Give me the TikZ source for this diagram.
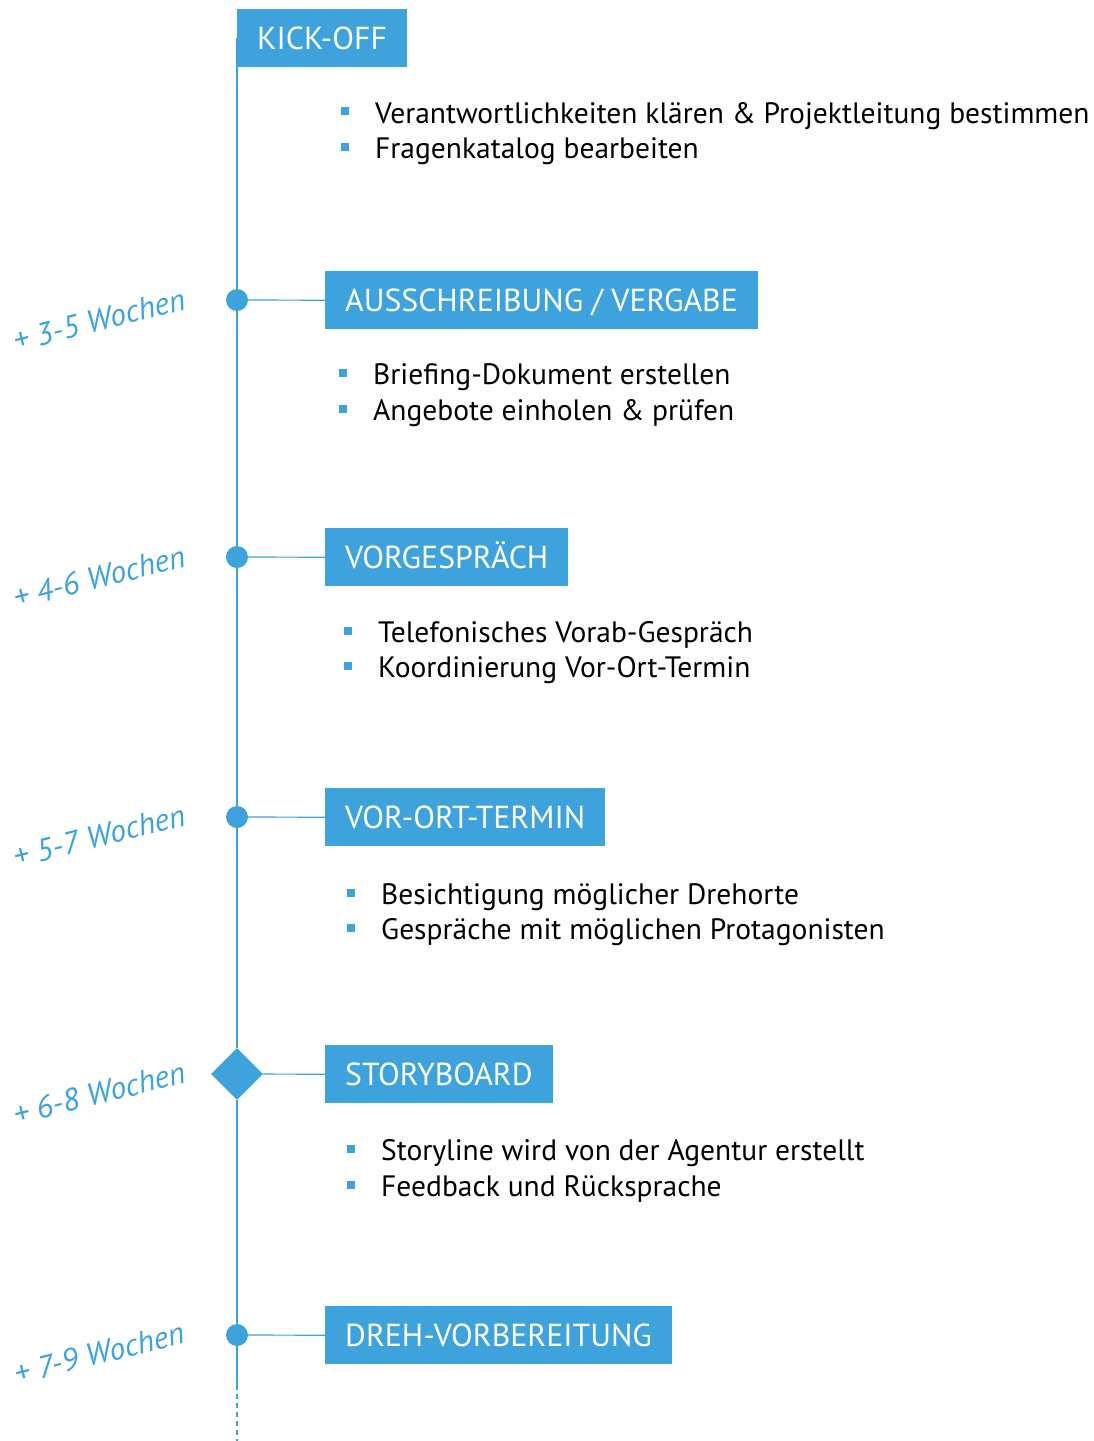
\documentclass[tikz,border=0pt]{standalone}
\usepackage{fontspec}
\setmainfont{PT Sans}
\usetikzlibrary{shapes.geometric}
\definecolor{tlblue}{HTML}{3EA3DC}
\begin{document}
\begin{tikzpicture}[x=1pt,y=-1pt,
  phasebox/.style={fill=tlblue,text=white,anchor=north west,inner xsep=20pt,inner ysep=0pt,
    minimum height=58pt,text height=22pt,text depth=0pt,font=\fontsize{31.8}{36}\selectfont},
  item/.style={anchor=base west,inner sep=0pt,font=\fontsize{29.5}{34}\selectfont},
  bul/.style={fill=tlblue,minimum size=8pt,inner sep=0pt,draw=none},
  dot/.style={circle,fill=tlblue,minimum size=22pt,inner sep=0pt},
  dia/.style={diamond,fill=tlblue,minimum size=52pt,inner sep=0pt},
  tl/.style={draw=tlblue,line width=1.2pt},
  weeks/.style={text=tlblue,rotate=14,font=\itshape\fontsize{31.5}{36}\selectfont,inner sep=0pt}]
\useasboundingbox (0,0) rectangle (1094,1441);
% timeline nodes
\coordinate (top) at (237,38);
\node[dot] (m1) at (237,300) {};
\node[dot] (m2) at (237,557) {};
\node[dot] (m3) at (237,817) {};
\node[dia] (m4) at (237,1074) {};
\node[dot] (m5) at (237,1335) {};
\coordinate (solidend) at (237,1385);
\coordinate (bottom) at (237,1441);
\draw[tl] (top) -- (m1) -- (m2) -- (m3) -- (m4) -- (m5) -- (solidend);
\draw[tl,dash pattern=on 5pt off 4pt] (solidend) -- (bottom);
% boxes
\node[phasebox] (b0) at (237,9) {KICK-OFF};
\node[phasebox] (b1) at (325,271) {AUSSCHREIBUNG / VERGABE};
\node[phasebox] (b2) at (325,528) {VORGESPRÄCH};
\node[phasebox] (b3) at (325,788) {VOR-ORT-TERMIN};
\node[phasebox] (b4) at (325,1045) {STORYBOARD};
\node[phasebox] (b5) at (325,1306) {DREH-VORBEREITUNG};
\draw[tl] (m1) -- (b1.west);
\draw[tl] (m2) -- (b2.west);
\draw[tl] (m3) -- (b3.west);
\draw[tl] (m4) -- (b4.west);
\draw[tl] (m5) -- (b5.west);
% bullets
\node[bul] (q01) at (345,111) {};
\node[item] (t01) at (375,123) {Verantwortlichkeiten klären \& Projektleitung bestimmen};
\node[bul] (q02) at (345,147) {};
\node[item] (t02) at (375,158) {Fragenkatalog bearbeiten};
\node[bul] (q11) at (343,373) {};
\node[item] (t11) at (373,384) {Briefing-Dokument erstellen};
\node[bul] (q12) at (343,409) {};
\node[item] (t12) at (373,420) {Angebote einholen \& prüfen};
\node[bul] (q21) at (348,631) {};
\node[item] (t21) at (378,642) {Telefonisches Vorab-Gespräch};
\node[bul] (q22) at (348,666) {};
\node[item] (t22) at (378,677) {Koordinierung Vor-Ort-Termin};
\node[bul] (q31) at (351,893) {};
\node[item] (t31) at (381,904) {Besichtigung möglicher Drehorte};
\node[bul] (q32) at (351,928) {};
\node[item] (t32) at (381,939) {Gespräche mit möglichen Protagonisten};
\node[bul] (q41) at (351,1149) {};
\node[item] (t41) at (381,1160) {Storyline wird von der Agentur erstellt};
\node[bul] (q42) at (351,1185) {};
\node[item] (t42) at (381,1196) {Feedback und Rücksprache};
% week labels
\node[weeks] (w1) at (99,320) {+ 3-5 Wochen};
\node[weeks] (w2) at (99,577) {+ 4-6 Wochen};
\node[weeks] (w3) at (99,836) {+ 5-7 Wochen};
\node[weeks] (w4) at (99,1093) {+ 6-8 Wochen};
\node[weeks] (w5) at (99,1353) {+ 7-9 Wochen};
\end{tikzpicture}
\end{document}
